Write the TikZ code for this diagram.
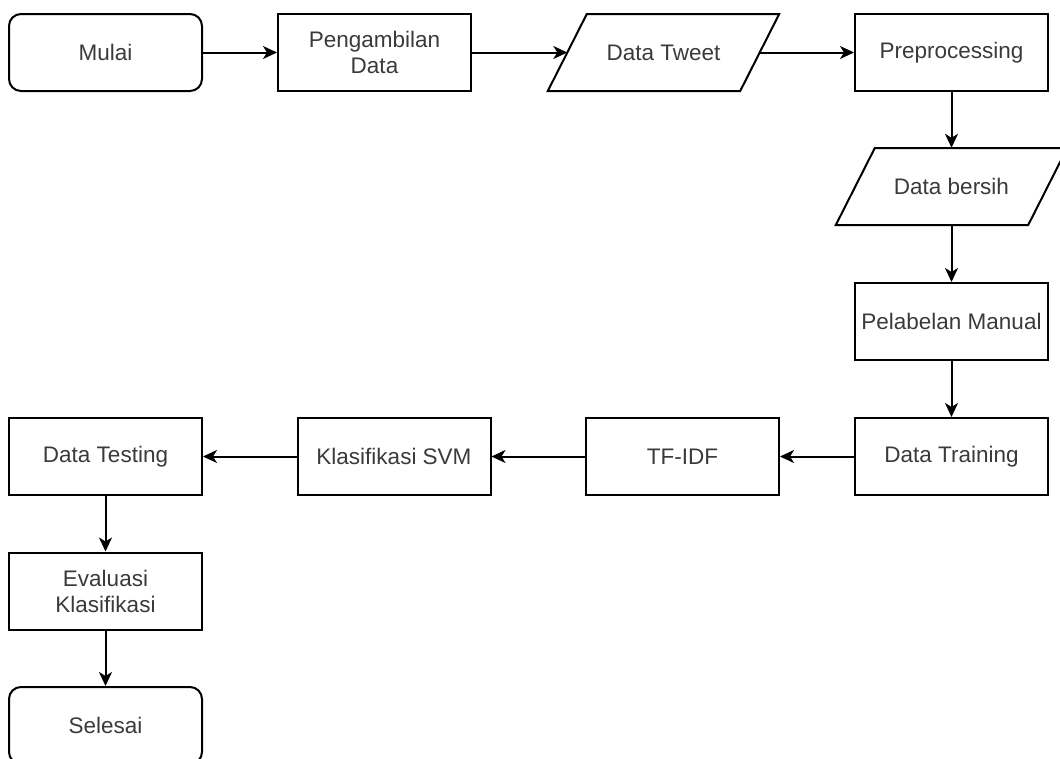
\documentclass[tikz,border=0pt]{standalone}
\usepackage{fontspec}
\setmainfont{Liberation Sans}
\usetikzlibrary{arrows.meta}
\definecolor{txt}{HTML}{3A3A3A}
\begin{document}
\begin{tikzpicture}[x=1pt,y=-1pt,
  every node/.style={font=\fontsize{22.5}{26}\selectfont, text=txt, align=center},
  procbox/.style={draw=black, line width=2pt, rectangle, minimum width=193pt, minimum height=77pt, inner sep=0pt},
  termbox/.style={procbox, rounded corners=12pt},
  iobox/.style={rectangle, minimum width=192pt, minimum height=77pt, inner sep=0pt},
  ioline/.style={draw=black, line width=2pt, line join=miter},
  flow/.style={draw=black, line width=2pt, -{Stealth[length=14pt,width=13pt,inset=4pt]}}
]
\useasboundingbox (0,0) rectangle (1060,758);
\clip (0,0) rectangle (1060,758);
\node[termbox] (mulai) at (105.5,52.5) {Mulai};
\node[procbox] (ambil) at (374.5,52.5) {Pengambilan\\Data};
\node[iobox] (tweet) at (663.5,52.5) {Data Tweet};
\node[procbox] (prep) at (951.5,52.5) {Preprocessing};
\node[iobox] (bersih) at (951.5,186.5) {Data bersih};
\node[procbox] (label) at (951.5,321.5) {Pelabelan Manual};
\node[procbox] (train) at (951.5,456.5) {Data Training};
\node[procbox] (tfidf) at (682.5,456.5) {TF-IDF};
\node[procbox] (svm) at (394,456.5) {Klasifikasi SVM};
\node[procbox] (test) at (105.5,456.5) {Data Testing};
\node[procbox] (eval) at (105.5,591) {Evaluasi\\Klasifikasi};
\node[termbox] (selesai) at (105.5,725.5) {Selesai};
\foreach \n in {tweet,bersih}{
  \draw[ioline] ([shift={(19.5,-38.5)}]\n.west) -- ([shift={(19.5,-38.5)}]\n.east)
    -- ([shift={(-19.5,38.5)}]\n.east) -- ([shift={(-19.5,38.5)}]\n.west) -- cycle;
}
\draw[flow] (mulai) -- (ambil);
\draw[flow] (ambil) -- (tweet);
\draw[flow] (tweet) -- (prep);
\draw[flow] (prep) -- (bersih);
\draw[flow] (bersih) -- (label);
\draw[flow] (label) -- (train);
\draw[flow] (train) -- (tfidf);
\draw[flow] (tfidf) -- (svm);
\draw[flow] (svm) -- (test);
\draw[flow] (test) -- (eval);
\draw[flow] (eval) -- (selesai);
\end{tikzpicture}
\end{document}
